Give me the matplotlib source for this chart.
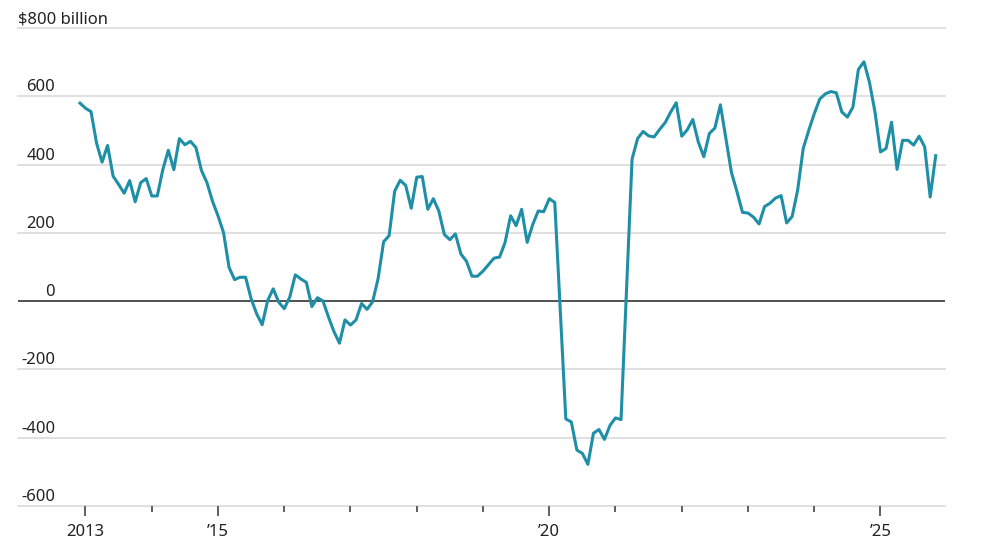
import matplotlib
matplotlib.use('Agg')
import matplotlib.pyplot as plt
import matplotlib.transforms as mtransforms

plt.rcParams['font.family'] = ['Noto Sans', 'DejaVu Sans']

# Monthly values, $ billion, starting December 2012
start_year, start_month = 2012, 12
values = [
    580, 565, 555, 463, 407, 456, 366, 342, 316, 353, 291, 347,
    359, 308, 308, 385, 442, 385, 476, 458, 468, 450, 383, 347,
    293, 250, 201, 99, 63, 70, 70, 7, -37, -69, 2, 36,
    -3, -22, 12, 77, 65, 55, -16, 10, 1, -46, -89, -123,
    -55, -70, -55, -7, -24, -2, 66, 174, 192, 322, 354, 339,
    272, 363, 365, 269, 300, 264, 195, 180, 197, 138, 117, 73,
    73, 88, 107, 126, 129, 172, 250, 221, 269, 172, 224, 264,
    262, 300, 289, -30, -345, -354, -436, -446, -478, -387, -376, -405,
    -364, -342, -347, 35, 416, 476, 497, 484, 481, 503, 523, 554,
    581, 483, 502, 532, 466, 423, 491, 507, 575, 476, 377, 321,
    260, 258, 246, 226, 277, 287, 302, 309, 229, 248, 326, 447,
    500, 549, 592, 607, 614, 610, 554, 539, 568, 679, 701, 641,
    554, 437, 447, 524, 386, 471, 471, 457, 483, 452, 305, 426,
]

y_ticks = [-600, -400, -200, 0, 200, 400, 600, 800]
y_tick_labels = ['-600', '-400', '-200', '0', '200', '400', '600', '$800 billion']
major_years = [2013, 2015, 2020, 2025]
major_labels = ['2013', '\u201915', '\u201920', '\u201925']
minor_years = [2014, 2016, 2017, 2018, 2019, 2021, 2022, 2023, 2024]

x = [start_year + (start_month - 1) / 12 + k / 12 for k in range(len(values))]

fig = plt.figure(figsize=(10, 5.45), dpi=100)
ax = fig.add_axes([0.018, 1 - 506 / 545, 0.927, (506 - 28) / 545])
ax.set_xlim(2013 - 67.5 / 66.25, 2013 + 859.5 / 66.25)
ax.set_ylim(-600, 800)

for s in ax.spines.values():
    s.set_visible(False)

for v in y_ticks:
    if v == 0:
        ax.axhline(v, color='#333333', lw=1.2, zorder=2)
    else:
        ax.axhline(v, color='#dddddd', lw=1.3, zorder=1, clip_on=False)

ax.plot(x, values, color='#1f8fa7', lw=2.2, zorder=3, solid_joinstyle='round')

ax.set_yticks([])
trans = mtransforms.offset_copy(ax.get_yaxis_transform(), fig=fig, x=0, y=5, units='dots')
xr = (55 - 18) / 927
for v, lab in zip(y_ticks, y_tick_labels):
    if v == 800:
        ax.text(0.0, v, lab.replace('$', r'\$'), transform=trans, ha='left', va='baseline',
                fontsize=12, color='#222222')
    else:
        ax.text(xr, v, lab, transform=trans, ha='right', va='baseline',
                fontsize=12, color='#222222')

ax.set_xticks(major_years)
ax.set_xticklabels(major_labels, fontsize=12, color='#222222')
ax.set_xticks(minor_years, minor=True)
ax.tick_params(axis='x', which='major', direction='out', length=7, width=1.2,
               color='#444444', pad=6)
ax.tick_params(axis='x', which='minor', direction='out', length=4, width=1.2,
               color='#444444')

fig.savefig('out.png', dpi=100, facecolor='white')
